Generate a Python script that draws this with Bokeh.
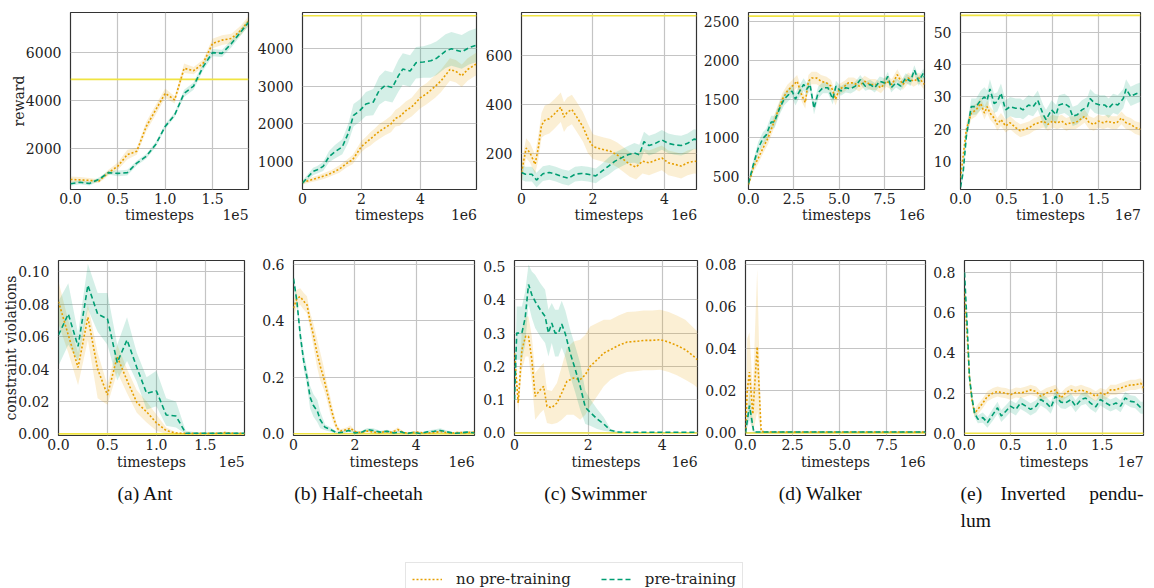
import numpy as np
from bokeh.plotting import figure
from bokeh.models import Range1d, FixedTicker, Span, Legend, LegendItem, LinearAxis
from bokeh.layouts import row, column
from bokeh.embed import file_html
from bokeh.resources import INLINE
from bokeh.core.properties import value

ORANGE = "#E69F00"
GREEN = "#009E73"
YELLOW = "#F0E442"
SERIF = "DejaVu Serif, serif"

# ---------------- Reward (top row) ----------------
# (a) Ant, x in 1e5
ANT_R_X = [0.0, 0.1, 0.2, 0.3, 0.4, 0.5, 0.6, 0.7, 0.8, 0.9, 1.0, 1.1, 1.2, 1.3, 1.4, 1.5, 1.6, 1.7, 1.8, 1.88]
ANT_R_NP = [717, 700, 680, 650, 1000, 1270, 1750, 1890, 2920, 3610, 4300, 4030, 5340, 5240, 5545, 6370, 6510, 6580, 6920, 7300]
ANT_R_NP_S = [120, 120, 100, 80, 120, 150, 200, 150, 200, 200, 200, 150, 200, 150, 150, 200, 200, 200, 200, 200]
ANT_R_PT = [538, 600, 550, 720, 1000, 970, 1000, 1400, 1680, 2170, 2920, 3400, 4300, 4600, 5400, 5990, 5960, 6370, 6860, 7250]
ANT_R_PT_S = [80, 80, 80, 80, 80, 120, 120, 100, 100, 100, 100, 100, 150, 150, 150, 150, 150, 150, 150, 150]
ANT_R_THR = 4880

# (b) Half-cheetah, x in 1e6
HC_R_NP_X = [0, 0.25, 0.5, 0.75, 1.0, 1.25, 1.5, 1.7, 2.0, 2.15, 2.3, 2.45, 2.6, 2.8, 3.0, 3.15, 3.3, 3.5, 3.7, 4.0, 4.2, 4.5, 4.7, 5.0, 5.2, 5.4, 5.6, 5.9]
HC_R_NP = [450, 500, 560, 620, 700, 800, 950, 1050, 1400, 1500, 1600, 1700, 1800, 1900, 2000, 2150, 2200, 2350, 2450, 2700, 2800, 3000, 3150, 3450, 3400, 3280, 3450, 3600]
HC_R_NP_S = [60, 60, 70, 80, 80, 100, 100, 120, 150, 150, 180, 180, 200, 200, 220, 220, 250, 250, 250, 280, 280, 300, 300, 300, 300, 300, 300, 300]
HC_R_PT_X = [0, 0.2, 0.36, 0.5, 0.7, 0.9, 1.1, 1.35, 1.55, 1.73, 1.95, 2.15, 2.4, 2.6, 2.8, 3.05, 3.25, 3.4, 3.65, 3.85, 4.1, 4.35, 4.55, 4.85, 5.05, 5.4, 5.65, 5.9]
HC_R_PT = [430, 600, 737, 780, 870, 1130, 1260, 1390, 1750, 2230, 2360, 2530, 2580, 2890, 3020, 2970, 3280, 3460, 3410, 3630, 3650, 3680, 3750, 3940, 4000, 3920, 4030, 4100]
HC_R_PT_S = [60, 80, 100, 100, 120, 150, 180, 200, 250, 300, 300, 320, 350, 380, 400, 400, 420, 420, 420, 420, 420, 450, 450, 450, 450, 450, 450, 450]
HC_R_THR = 4880

# (c) Swimmer, x in 1e6
SW_R_NP_X = [0, 0.13, 0.24, 0.38, 0.47, 0.56, 0.65, 0.78, 0.92, 1.1, 1.19, 1.28, 1.41, 1.55, 1.72, 1.86, 2.0, 2.13, 2.31, 2.49, 2.67, 2.85, 3.03, 3.21, 3.39, 3.57, 3.75, 3.93, 4.11, 4.29, 4.47, 4.65, 4.83, 4.9]
SW_R_NP = [125, 224, 204, 158, 224, 316, 336, 343, 362, 389, 349, 369, 380, 349, 310, 263, 230, 224, 217, 211, 197, 178, 158, 147, 171, 164, 174, 184, 164, 158, 151, 164, 171, 170]
SW_R_NP_S = [40, 40, 40, 40, 50, 50, 60, 60, 60, 60, 60, 60, 60, 60, 60, 60, 50, 50, 50, 50, 50, 50, 50, 50, 50, 50, 50, 50, 50, 50, 50, 50, 50, 50]
SW_R_PT_X = [0, 0.11, 0.29, 0.42, 0.6, 0.78, 0.96, 1.14, 1.32, 1.5, 1.68, 1.86, 2.08, 2.26, 2.44, 2.62, 2.8, 2.98, 3.16, 3.3, 3.43, 3.57, 3.75, 3.93, 4.11, 4.29, 4.47, 4.65, 4.83, 4.9]
SW_R_PT = [125, 118, 118, 94, 120, 125, 118, 108, 102, 118, 121, 118, 111, 131, 151, 171, 184, 197, 204, 197, 250, 234, 243, 257, 243, 237, 234, 243, 260, 258]
SW_R_PT_S = [30, 30, 30, 30, 30, 30, 30, 30, 30, 30, 30, 30, 30, 30, 35, 35, 35, 35, 40, 40, 40, 40, 40, 40, 40, 40, 40, 40, 40, 40]
SW_R_THR = 760

# (d) Walker, x in 1e6
WK_R_NP_X = [0, 0.27, 0.54, 0.8, 1.07, 1.34, 1.6, 1.87, 2.14, 2.41, 2.68, 2.95, 3.13, 3.3, 3.48, 3.75, 4.0, 4.3, 4.55, 4.8, 5.0, 5.3, 5.5, 5.8, 6.1, 6.4, 6.7, 7.0, 7.3, 7.6, 7.9, 8.2, 8.5, 8.8, 9.1, 9.4, 9.7]
WK_R_NP = [400, 620, 740, 870, 996, 1164, 1332, 1500, 1605, 1668, 1731, 1542, 1458, 1731, 1773, 1773, 1731, 1710, 1668, 1500, 1626, 1668, 1710, 1710, 1668, 1731, 1689, 1689, 1647, 1731, 1689, 1815, 1689, 1773, 1731, 1773, 1689]
WK_R_NP_S = [40, 60, 70, 70, 80, 80, 80, 80, 80, 80, 80, 80, 80, 80, 80, 80, 80, 80, 80, 80, 70, 70, 70, 70, 70, 70, 70, 70, 70, 70, 70, 70, 70, 70, 70, 70, 70]
WK_R_PT_X = [0, 0.27, 0.54, 0.8, 0.98, 1.25, 1.43, 1.7, 1.96, 2.23, 2.4, 2.59, 2.77, 3.04, 3.21, 3.39, 3.61, 3.84, 4.1, 4.38, 4.64, 4.82, 5.09, 5.36, 5.63, 5.89, 6.16, 6.43, 6.7, 6.96, 7.23, 7.5, 7.68, 7.86, 8.13, 8.39, 8.66, 8.93, 9.14, 9.38, 9.64, 9.7]
WK_R_PT = [416, 660, 870, 996, 1040, 1206, 1206, 1374, 1500, 1563, 1605, 1500, 1584, 1689, 1626, 1689, 1382, 1584, 1647, 1647, 1500, 1668, 1605, 1647, 1634, 1668, 1752, 1668, 1689, 1647, 1731, 1710, 1794, 1647, 1710, 1668, 1773, 1731, 1878, 1731, 1836, 1780]
WK_R_PT_S = [40, 60, 80, 80, 80, 80, 80, 80, 80, 80, 80, 80, 80, 80, 80, 80, 80, 80, 70, 70, 70, 70, 60, 60, 60, 60, 60, 60, 60, 60, 60, 60, 60, 60, 60, 60, 60, 60, 60, 60, 60, 60]
WK_R_THR = 2570

# (e) Inverted pendulum, x in 1e7
IP_R_NP_X = [0, 0.03, 0.064, 0.117, 0.17, 0.22, 0.26, 0.29, 0.32, 0.365, 0.4, 0.44, 0.49, 0.54, 0.6, 0.65, 0.7, 0.75, 0.8, 0.85, 0.9, 0.95, 1.0, 1.05, 1.1, 1.15, 1.2, 1.25, 1.3, 1.35, 1.4, 1.45, 1.5, 1.55, 1.6, 1.65, 1.7, 1.75, 1.8, 1.85, 1.9, 1.957]
IP_R_NP = [5, 12, 20, 25, 26, 28, 25, 27, 25, 23.5, 21.5, 23, 21, 22, 20.5, 19.5, 20, 20.5, 21.5, 22, 22.5, 21.5, 22.5, 22, 22.5, 21.5, 22, 22, 23, 24, 22, 21.5, 22.5, 22, 22.5, 22, 22, 23.5, 22, 21.5, 20.5, 20]
IP_R_NP_S = [1, 2, 2, 2, 2, 2, 2, 2, 2, 2, 2, 2, 2, 2, 2, 2, 2, 2, 2, 2, 2, 2, 2, 2, 2, 2, 2, 2, 2, 2, 2, 2, 2, 2, 2, 2, 2, 2, 2, 2, 2, 2]
IP_R_PT_X = [0, 0.03, 0.064, 0.117, 0.17, 0.22, 0.26, 0.29, 0.32, 0.365, 0.4, 0.44, 0.49, 0.54, 0.6, 0.65, 0.68, 0.74, 0.79, 0.84, 0.9, 0.93, 0.99, 1.04, 1.07, 1.13, 1.18, 1.22, 1.27, 1.32, 1.38, 1.41, 1.46, 1.52, 1.57, 1.61, 1.66, 1.71, 1.77, 1.8, 1.85, 1.91, 1.957]
IP_R_PT = [2, 7, 18, 27, 27, 29, 30, 29, 32.5, 28, 28.5, 31.2, 26, 27, 26.5, 26.5, 26, 27.5, 27, 29, 24.5, 23, 26, 24.5, 27.5, 28, 27, 24, 24.5, 26, 27, 29.5, 28, 27.5, 27.5, 26.5, 28, 27.5, 29.5, 32.5, 30.2, 31, 31.5]
IP_R_PT_S = [1, 2, 2, 2.5, 2.5, 3, 3, 3, 3, 3, 3, 3, 3, 3, 3, 3, 3, 3, 3, 3, 3, 3, 3, 3, 3, 3, 3, 3, 3, 3, 3, 3, 3, 3, 3, 3, 3, 3, 3, 3, 3, 3, 3]
IP_R_THR = 55.3

# ---------------- Constraint violations (bottom row) ----------------
ANT_C_X = [0.0, 0.1, 0.2, 0.3, 0.4, 0.5, 0.6, 0.7, 0.8, 0.9, 1.0, 1.1, 1.2, 1.3, 1.4, 1.5, 1.6, 1.7, 1.8, 1.9]
ANT_C_NP = [0.0816, 0.061, 0.041, 0.072, 0.04, 0.024, 0.0476, 0.033, 0.0194, 0.0136, 0.0068, 0.002, 0.0005, 0.0003, 0.0003, 0.0003, 0.0003, 0.0008, 0.0003, 0.0003]
ANT_C_NP_LO = [0.068, 0.05, 0.03, 0.058, 0.022, 0.018, 0.038, 0.025, 0.013, 0.007, 0.002, 0.0, 0.0, 0.0, 0.0, 0.0, 0.0, 0.0, 0.0, 0.0]
ANT_C_NP_HI = [0.094, 0.07, 0.05, 0.08, 0.05, 0.03, 0.055, 0.04, 0.027, 0.02, 0.012, 0.004, 0.001, 0.0006, 0.0006, 0.0006, 0.0006, 0.0015, 0.0006, 0.0006]
ANT_C_PT = [0.061, 0.074, 0.054, 0.0917, 0.074, 0.071, 0.044, 0.058, 0.041, 0.025, 0.0265, 0.0117, 0.011, 0.0004, 0.0004, 0.0004, 0.0004, 0.0004, 0.0004, 0.0004]
ANT_C_PT_LO = [0.042, 0.055, 0.045, 0.077, 0.063, 0.055, 0.033, 0.045, 0.032, 0.015, 0.017, 0.005, 0.004, 0.0, 0.0, 0.0, 0.0, 0.0, 0.0, 0.0]
ANT_C_PT_HI = [0.082, 0.093, 0.062, 0.105, 0.087, 0.087, 0.055, 0.072, 0.05, 0.035, 0.039, 0.022, 0.02, 0.002, 0.001, 0.001, 0.001, 0.001, 0.001, 0.001]

HC_C_NP_X = [0, 0.11, 0.22, 0.33, 0.44, 0.54, 0.65, 0.76, 0.87, 0.98, 1.09, 1.2, 1.31, 1.42, 1.53, 1.75, 1.85, 2.0, 2.2, 2.4, 2.6, 2.8, 3.0, 3.2, 3.4, 3.6, 3.8, 4.0, 4.2, 4.4, 4.6, 4.8, 5.0, 5.2, 5.4, 5.6, 5.9]
HC_C_NP = [0.445, 0.48, 0.486, 0.47, 0.457, 0.40, 0.35, 0.29, 0.24, 0.20, 0.15, 0.10, 0.055, 0.02, 0.01, 0.015, 0.02, 0.008, 0.004, 0.01, 0.006, 0.004, 0.008, 0.005, 0.015, 0.004, 0.003, 0.006, 0.004, 0.003, 0.005, 0.008, 0.004, 0.003, 0.005, 0.004, 0.006]
HC_C_NP_S = [0.03, 0.03, 0.03, 0.03, 0.03, 0.03, 0.04, 0.05, 0.05, 0.04, 0.03, 0.03, 0.02, 0.01, 0.006, 0.008, 0.01, 0.005, 0.003, 0.006, 0.004, 0.003, 0.005, 0.004, 0.008, 0.003, 0.003, 0.004, 0.003, 0.003, 0.004, 0.005, 0.003, 0.003, 0.004, 0.003, 0.004]
HC_C_PT_X = [0, 0.11, 0.22, 0.33, 0.44, 0.54, 0.65, 0.78, 0.87, 1.03, 1.2, 1.42, 1.63, 1.8, 2.0, 2.23, 2.4, 2.6, 2.83, 3.05, 3.27, 3.49, 3.7, 3.92, 4.14, 4.36, 4.58, 4.79, 5.0, 5.23, 5.45, 5.66, 5.9]
HC_C_PT = [0.55, 0.47, 0.35, 0.26, 0.2, 0.13, 0.10, 0.08, 0.05, 0.023, 0.015, 0.003, 0.006, 0.012, 0.003, 0.006, 0.015, 0.012, 0.006, 0.009, 0.003, 0.007, 0.001, 0.005, 0.001, 0.007, 0.009, 0.012, 0.007, 0.002, 0.003, 0.006, 0.003]
HC_C_PT_S = [0.02, 0.02, 0.03, 0.03, 0.03, 0.04, 0.04, 0.04, 0.03, 0.01, 0.008, 0.004, 0.005, 0.006, 0.004, 0.005, 0.006, 0.008, 0.005, 0.005, 0.004, 0.005, 0.003, 0.004, 0.003, 0.005, 0.006, 0.008, 0.005, 0.003, 0.003, 0.004, 0.003]

SW_C_NP_X = [0, 0.1, 0.2, 0.3, 0.38, 0.47, 0.56, 0.7, 0.79, 0.88, 1.01, 1.15, 1.28, 1.42, 1.6, 1.78, 1.92, 2.05, 2.24, 2.42, 2.6, 2.82, 3.05, 3.28, 3.5, 3.73, 3.95, 4.18, 4.4, 4.63, 4.86, 4.96]
SW_C_NP = [0.24, 0.09, 0.25, 0.29, 0.29, 0.22, 0.11, 0.13, 0.14, 0.08, 0.076, 0.09, 0.12, 0.155, 0.165, 0.16, 0.175, 0.2, 0.22, 0.24, 0.25, 0.263, 0.273, 0.275, 0.278, 0.278, 0.28, 0.273, 0.263, 0.25, 0.23, 0.22]
SW_C_NP_S = [0.02, 0.03, 0.06, 0.06, 0.06, 0.07, 0.07, 0.07, 0.07, 0.05, 0.05, 0.06, 0.08, 0.1, 0.11, 0.12, 0.12, 0.12, 0.11, 0.1, 0.09, 0.09, 0.09, 0.09, 0.09, 0.09, 0.09, 0.09, 0.09, 0.09, 0.085, 0.085]
SW_C_PT_X = [0, 0.06, 0.2, 0.29, 0.38, 0.47, 0.56, 0.7, 0.83, 0.92, 1.01, 1.1, 1.19, 1.28, 1.38, 1.51, 1.65, 1.78, 1.92, 2.05, 2.24, 2.42, 2.6, 2.78, 3.0, 3.5, 4.0, 4.5, 4.96]
SW_C_PT = [0.1, 0.30, 0.30, 0.346, 0.446, 0.415, 0.395, 0.37, 0.35, 0.30, 0.33, 0.30, 0.30, 0.327, 0.297, 0.24, 0.19, 0.14, 0.077, 0.062, 0.042, 0.027, 0.008, 0.003, 0.002, 0.002, 0.002, 0.002, 0.002]
SW_C_PT_S = [0.02, 0.08, 0.08, 0.08, 0.06, 0.07, 0.08, 0.08, 0.08, 0.07, 0.06, 0.07, 0.07, 0.07, 0.07, 0.07, 0.07, 0.07, 0.05, 0.04, 0.03, 0.02, 0.005, 0.002, 0.001, 0.001, 0.001, 0.001, 0.001]

WK_C_NP_X = [0, 0.09, 0.21, 0.39, 0.62, 0.83, 1.0, 2.0, 3.0, 4.0, 5.0, 6.0, 7.0, 8.0, 9.0, 9.55]
WK_C_NP = [0.0, 0.02, 0.029, 0.009, 0.041, 0.0008, 0.0005, 0.0005, 0.0005, 0.0005, 0.0005, 0.0005, 0.0005, 0.0005, 0.0005, 0.0005]
WK_C_NP_LO = [0.0, 0.003, 0.01, 0.0, 0.01, 0.0, 0.0, 0.0, 0.0, 0.0, 0.0, 0.0, 0.0, 0.0, 0.0, 0.0]
WK_C_NP_HI = [0.0, 0.045, 0.048, 0.02, 0.078, 0.002, 0.001, 0.001, 0.001, 0.001, 0.001, 0.001, 0.001, 0.001, 0.001, 0.001]
WK_C_PT_X = [0, 0.21, 0.44, 0.7, 1.0, 2.0, 3.0, 4.0, 5.0, 6.0, 7.0, 8.0, 9.0, 9.55]
WK_C_PT = [0.0, 0.013, 0.0005, 0.0005, 0.0005, 0.0005, 0.0005, 0.0005, 0.0005, 0.0005, 0.0005, 0.0005, 0.0005, 0.0005]
WK_C_PT_LO = [0.0, 0.006, 0.0, 0.0, 0.0, 0.0, 0.0, 0.0, 0.0, 0.0, 0.0, 0.0, 0.0, 0.0]
WK_C_PT_HI = [0.0, 0.02, 0.001, 0.001, 0.001, 0.001, 0.001, 0.001, 0.001, 0.001, 0.001, 0.001, 0.001, 0.001]

IP_C_X = [0, 0.03, 0.054, 0.08, 0.11, 0.145, 0.2, 0.25, 0.31, 0.36, 0.4, 0.45, 0.5, 0.56, 0.61, 0.67, 0.72, 0.78, 0.83, 0.89, 0.94, 0.99, 1.05, 1.1, 1.16, 1.21, 1.27, 1.32, 1.37, 1.43, 1.48, 1.54, 1.59, 1.65, 1.7, 1.75, 1.81, 1.86, 1.92, 1.95]
IP_C_NP = [0.705, 0.48, 0.28, 0.167, 0.1, 0.119, 0.151, 0.184, 0.2, 0.208, 0.203, 0.2, 0.192, 0.203, 0.2, 0.208, 0.216, 0.208, 0.184, 0.2, 0.208, 0.216, 0.176, 0.2, 0.216, 0.208, 0.216, 0.208, 0.2, 0.184, 0.2, 0.192, 0.216, 0.216, 0.225, 0.233, 0.241, 0.241, 0.249, 0.225]
IP_C_NP_S = [0.03, 0.03, 0.03, 0.025, 0.02, 0.025, 0.025, 0.025, 0.025, 0.025, 0.025, 0.025, 0.025, 0.025, 0.025, 0.025, 0.025, 0.025, 0.025, 0.025, 0.025, 0.025, 0.025, 0.025, 0.025, 0.025, 0.025, 0.025, 0.025, 0.025, 0.025, 0.025, 0.025, 0.025, 0.025, 0.025, 0.025, 0.025, 0.025, 0.025]
IP_C_PT = [0.80, 0.53, 0.28, 0.18, 0.1, 0.07, 0.078, 0.053, 0.094, 0.127, 0.086, 0.11, 0.135, 0.119, 0.151, 0.135, 0.119, 0.135, 0.168, 0.151, 0.127, 0.184, 0.155, 0.151, 0.168, 0.135, 0.168, 0.176, 0.151, 0.132, 0.168, 0.151, 0.138, 0.151, 0.135, 0.176, 0.159, 0.155, 0.127, 0.127]
IP_C_PT_S = [0.02, 0.03, 0.03, 0.03, 0.02, 0.02, 0.025, 0.025, 0.03, 0.03, 0.03, 0.03, 0.03, 0.03, 0.03, 0.03, 0.03, 0.03, 0.03, 0.03, 0.03, 0.03, 0.03, 0.03, 0.03, 0.03, 0.03, 0.03, 0.03, 0.03, 0.03, 0.03, 0.03, 0.03, 0.03, 0.03, 0.03, 0.03, 0.03, 0.03]

# ticks
X_TICKS_05 = [0.0, 0.5, 1.0, 1.5]
X_LABELS_05 = ["0.0", "0.5", "1.0", "1.5"]
X_TICKS_2 = [0, 2, 4]
X_LABELS_2 = ["0", "2", "4"]
X_TICKS_25 = [0.0, 2.5, 5.0, 7.5]
X_LABELS_25 = ["0.0", "2.5", "5.0", "7.5"]

X_TITLE = "timesteps"
CAPTIONS = ["(a) Ant", "(b) Half-cheetah", "(c) Swimmer", "(d) Walker"]
LEGEND_LABELS = ["no pre-training", "pre-training"]


def band(y, s):
    y = np.asarray(y, dtype=float)
    s = np.asarray(s, dtype=float)
    return y - s, y + s


def style_axis(ax):
    ax.axis_line_color = None
    ax.major_tick_line_color = None
    ax.minor_tick_line_color = None
    ax.major_label_text_font = SERIF
    ax.major_label_text_font_size = "14px"
    ax.major_label_text_color = "#222222"


def panel(w, h, left, right, top, bottom, xlim, ylim, xt, xtl, yt, mult,
          lab_standoff, thr, series, ylabel=None, ylabel_standoff=2):
    p = figure(width=w, height=h, x_range=Range1d(*xlim), y_range=Range1d(*ylim),
               output_backend="svg", toolbar_location=None,
               min_border_left=left, min_border_right=right,
               min_border_top=top, min_border_bottom=bottom,
               background_fill_color="white", border_fill_color="white",
               outline_line_color="#333333", outline_line_width=1.2)
    xtick = FixedTicker(ticks=xt)
    ytick = FixedTicker(ticks=[t for t, _ in yt])
    p.xaxis.ticker = xtick
    p.yaxis.ticker = ytick
    p.xgrid.ticker = xtick
    p.ygrid.ticker = ytick
    p.xaxis.major_label_overrides = {t: l for t, l in zip(xt, xtl)}
    p.yaxis.major_label_overrides = {t: l for t, l in yt}
    style_axis(p.xaxis[0])
    style_axis(p.yaxis[0])
    p.xaxis.major_label_standoff = -3
    p.yaxis.major_label_standoff = 3
    p.grid.grid_line_color = "#c4c4c4"
    p.grid.grid_line_width = 1.2
    if ylabel:
        p.yaxis.axis_label = ylabel
        p.yaxis.axis_label_text_font = SERIF
        p.yaxis.axis_label_text_font_size = "14px"
        p.yaxis.axis_label_text_font_style = "normal"
        p.yaxis.axis_label_text_color = "#222222"
        p.yaxis.axis_label_standoff = ylabel_standoff

    # second axis line: "timesteps" centred, multiplier flush right
    frame_w = w - left - right
    mid = (xlim[0] + xlim[1]) / 2
    mult_pos = xlim[1] - 13.0 / frame_w * (xlim[1] - xlim[0])
    ax2 = LinearAxis(ticker=FixedTicker(ticks=[mid, mult_pos], minor_ticks=[]),
                     major_label_overrides={mid: X_TITLE, mult_pos: mult})
    style_axis(ax2)
    ax2.major_label_standoff = lab_standoff
    p.add_layout(ax2, "below")

    p.add_layout(Span(location=thr, dimension="width", line_color=YELLOW,
                      line_width=1.6, level="underlay"))
    for (x, y, lo, hi, color, dash) in series:
        p.varea(x=x, y1=lo, y2=hi, fill_color=color, fill_alpha=0.17)
    for (x, y, lo, hi, color, dash) in series:
        p.line(x=x, y=y, line_color=color, line_width=1.6, line_dash=dash)
    return p


DOT = "2 2"
DASH = "5 3"


def S(x, y, s, color, dash):
    lo, hi = band(y, s)
    return (x, y, lo, hi, color, dash)


def SL(x, y, lo, hi, color, dash):
    return (x, y, lo, hi, color, dash)


TOP_H = 230
BOT_H = 246

top = [
    panel(254, TOP_H, 70, 6, 12, 40, (0, 1.88), (300, 7660), X_TICKS_05, X_LABELS_05,
          [(2000, "2000"), (4000, "4000"), (6000, "6000")], "1e5", -6, ANT_R_THR,
          [S(ANT_R_X, ANT_R_NP, ANT_R_NP_S, ORANGE, DOT), S(ANT_R_X, ANT_R_PT, ANT_R_PT_S, GREEN, DASH)],
          ylabel="reward", ylabel_standoff=-4),
    panel(228, TOP_H, 42, 6, 11, 40, (0, 5.9), (255, 4966), X_TICKS_2, X_LABELS_2,
          [(1000, "1000"), (2000, "2000"), (3000, "3000"), (4000, "4000")], "1e6", -6, HC_R_THR,
          [S(HC_R_NP_X, HC_R_NP, HC_R_NP_S, ORANGE, DOT), S(HC_R_PT_X, HC_R_PT, HC_R_PT_S, GREEN, DASH)]),
    panel(218, TOP_H, 32, 4, 8, 41, (0, 4.9), (56, 773), X_TICKS_2, X_LABELS_2,
          [(200, "200"), (400, "400"), (600, "600")], "1e6", -6, SW_R_THR,
          [S(SW_R_NP_X, SW_R_NP, SW_R_NP_S, ORANGE, DOT), S(SW_R_PT_X, SW_R_PT, SW_R_PT_S, GREEN, DASH)]),
    panel(230, TOP_H, 43, 6, 8, 41, (0, 9.7), (336, 2617), X_TICKS_25, X_LABELS_25,
          [(500, "500"), (1000, "1000"), (1500, "1500"), (2000, "2000"), (2500, "2500")], "1e6", -6, WK_R_THR,
          [S(WK_R_NP_X, WK_R_NP, WK_R_NP_S, ORANGE, DOT), S(WK_R_PT_X, WK_R_PT, WK_R_PT_S, GREEN, DASH)]),
    panel(224, TOP_H, 26, 14, 6, 41, (0, 1.957), (1.3, 56.2), X_TICKS_05, X_LABELS_05,
          [(10, "10"), (20, "20"), (30, "30"), (40, "40"), (50, "50")], "1e7", -6, IP_R_THR,
          [S(IP_R_NP_X, IP_R_NP, IP_R_NP_S, ORANGE, DOT), S(IP_R_PT_X, IP_R_PT, IP_R_PT_S, GREEN, DASH)]),
]

bottom = [
    panel(250, BOT_H, 56, 6, 21, 41, (0, 1.9), (-0.001, 0.107), X_TICKS_05, X_LABELS_05,
          [(0.0, "0.00"), (0.02, "0.02"), (0.04, "0.04"), (0.06, "0.06"), (0.08, "0.08"), (0.1, "0.10")], "1e5", -5, 0.0,
          [SL(ANT_C_X, ANT_C_NP, ANT_C_NP_LO, ANT_C_NP_HI, ORANGE, DOT),
           SL(ANT_C_X, ANT_C_PT, ANT_C_PT_LO, ANT_C_PT_HI, GREEN, DASH)],
          ylabel="constraint violations", ylabel_standoff=-4),
    panel(230, BOT_H, 43, 6, 30, 38, (0, 5.9), (-0.006, 0.614), X_TICKS_2, X_LABELS_2,
          [(0.0, "0.0"), (0.2, "0.2"), (0.4, "0.4"), (0.6, "0.6")], "1e6", -5, 0.0,
          [S(HC_C_NP_X, HC_C_NP, HC_C_NP_S, ORANGE, DOT), S(HC_C_PT_X, HC_C_PT, HC_C_PT_S, GREEN, DASH)]),
    panel(222, BOT_H, 34, 5, 30, 38, (0, 4.96), (-0.0076, 0.518), X_TICKS_2, X_LABELS_2,
          [(0.0, "0.0"), (0.1, "0.1"), (0.2, "0.2"), (0.3, "0.3"), (0.4, "0.4"), (0.5, "0.5")], "1e6", -5, 0.0,
          [S(SW_C_NP_X, SW_C_NP, SW_C_NP_S, ORANGE, DOT), S(SW_C_PT_X, SW_C_PT, SW_C_PT_S, GREEN, DASH)]),
    panel(228, BOT_H, 42, 5, 24, 38, (0, 9.55), (-0.0012, 0.0821), X_TICKS_25, X_LABELS_25,
          [(0.0, "0.00"), (0.02, "0.02"), (0.04, "0.04"), (0.06, "0.06"), (0.08, "0.08")], "1e6", -5, 0.0,
          [SL(WK_C_NP_X, WK_C_NP, WK_C_NP_LO, WK_C_NP_HI, ORANGE, DOT),
           SL(WK_C_PT_X, WK_C_PT, WK_C_PT_LO, WK_C_PT_HI, GREEN, DASH)]),
    panel(224, BOT_H, 33, 11, 30, 38, (0, 1.95), (-0.011, 0.86), X_TICKS_05, X_LABELS_05,
          [(0.0, "0.0"), (0.2, "0.2"), (0.4, "0.4"), (0.6, "0.6"), (0.8, "0.8")], "1e7", -5, 0.0,
          [S(IP_C_X, IP_C_NP, IP_C_NP_S, ORANGE, DOT), S(IP_C_X, IP_C_PT, IP_C_PT_S, GREEN, DASH)]),
]

# ---------------- captions + legend ----------------
CAP_H = 588 - TOP_H - BOT_H
cap = figure(width=1154, height=CAP_H, x_range=Range1d(0, 1154), y_range=Range1d(CAP_H, 0),
             output_backend="svg", toolbar_location=None, min_border=0,
             x_axis_location=None, y_axis_location=None, outline_line_color=None,
             background_fill_color="white", border_fill_color="white")
cap.grid.visible = False
CAP_FONT = value("Liberation Serif")
cap.text(x=[145, 358, 595, 820], y=[17, 17, 17, 17], text=CAPTIONS, text_align="center",
         text_baseline="middle", text_font=CAP_FONT, text_font_size="19.5px", text_color="#111111")
cap.text(x=[960, 1000], y=[17, 17], text=["(e)", "Inverted"], text_align="left",
         text_baseline="middle", text_font=CAP_FONT, text_font_size="19.5px", text_color="#111111")
cap.text(x=[1143], y=[17], text=["pendu-"], text_align="right",
         text_baseline="middle", text_font=CAP_FONT, text_font_size="19.5px", text_color="#111111")
cap.text(x=[960], y=[44], text=["lum"], text_align="left",
         text_baseline="middle", text_font=CAP_FONT, text_font_size="19.5px", text_color="#111111")

# legend proxies (single point: nothing visible drawn, but legend glyph styled)
r_np = cap.line(x=[0], y=[0], line_color=ORANGE, line_width=1.6, line_dash=DOT)
r_pt = cap.line(x=[0], y=[0], line_color=GREEN, line_width=1.6, line_dash=DASH)
legend = Legend(items=[LegendItem(label=LEGEND_LABELS[0], renderers=[r_np]),
                       LegendItem(label=LEGEND_LABELS[1], renderers=[r_pt])],
                location=(405, -8), orientation="horizontal",
                label_text_font=SERIF, label_text_font_size="15px", label_text_color="#222222",
                glyph_width=30, glyph_height=20, label_height=20, label_standoff=14, spacing=30,
                padding=6, margin=0, border_line_color="#cccccc", border_line_width=1,
                background_fill_alpha=1.0)
cap.add_layout(legend)

layout = column(row(*top), row(*bottom), cap)
open("out.html", "w").write(file_html(layout, INLINE))
